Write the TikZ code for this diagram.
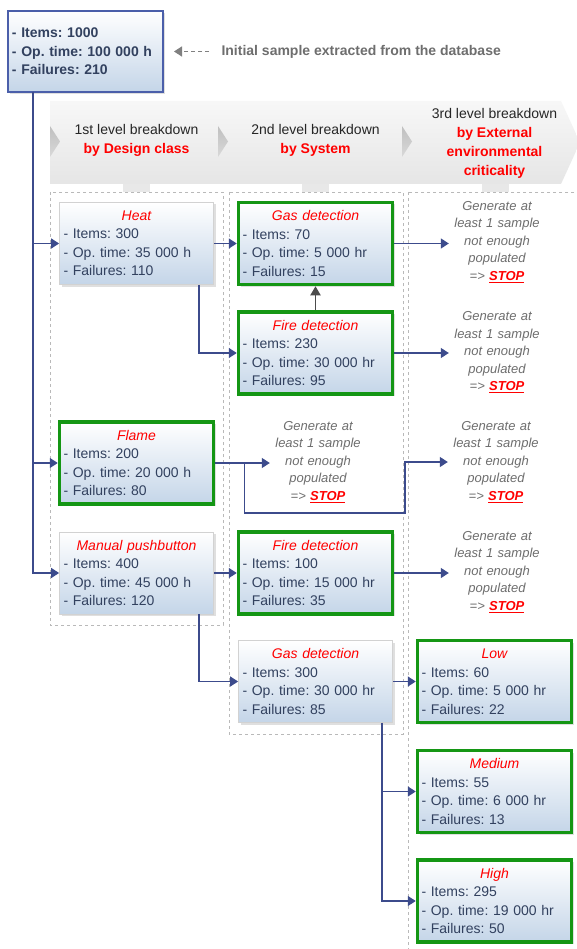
\documentclass[tikz,border=0pt]{standalone}
\usepackage{fontspec}
\setmainfont{Liberation Sans}
\usetikzlibrary{arrows.meta,shadows}
\frenchspacing

\definecolor{boxblue}{RGB}{196,213,232}
\definecolor{boxtext}{RGB}{50,65,95}
\definecolor{okgreen}{RGB}{20,150,20}
\definecolor{linkblue}{RGB}{60,75,140}
\definecolor{topblue}{RGB}{75,95,170}
\definecolor{notegray}{RGB}{110,110,110}

\newcommand{\boxstats}[4]{\makebox[146pt]{\textcolor{red}{\itshape #1}}\\- Items: #2\\- Op. time: #3\\- Failures: #4}
\newcommand{\stoptext}{Generate at\\least 1 sample\\not enough\\populated\\=> \textcolor{red}{\bfseries\underline{STOP}}}

\begin{document}
\begin{tikzpicture}[x=1pt, y=-1pt,
    stat/.style={rectangle, minimum width=154pt, minimum height=82pt, text width=146pt, inner xsep=4pt, align=left, top color=white, bottom color=boxblue, text=boxtext, font=\fontsize{14}{18.5}\selectfont, drop shadow={opacity=0.25, shadow xshift=2pt, shadow yshift=-2pt}},
    plainstat/.style={stat, draw=gray!35, line width=0.8pt},
    okstat/.style={stat, draw=okgreen, line width=3.5pt},
    stopnote/.style={text width=92pt, inner sep=2pt, align=center, text=notegray, font=\fontsize{13}{17.5}\selectfont\itshape},
    header/.style={align=center, text=black!85, font=\fontsize{14}{19}\selectfont},
    column/.style={draw=gray!55, dashed, line width=0.6pt},
    flow/.style={draw=linkblue, line width=1.4pt, -{Triangle[length=8pt,width=10pt]}},
  ]
            \useasboundingbox (0,0) rectangle (576,949);
            \fill[white] (0,0) rectangle (576,949);

            % Columns and banner
            \draw[column] (50,192) rectangle (223,625);
            \draw[column] (229,192) rectangle (403,734);
            \draw[column] (408,192) rectangle (590,960);
            \shade[top color=gray!6, bottom color=gray!20] (50,101) -- (561,101) -- (580,142.5) -- (561,184) -- (50,184) -- cycle;
            \foreach \x in {50,218,402}
                \shade[top color=gray!50, bottom color=gray!30] (\x,126) -- (\x+10,141.5) -- (\x,157) -- cycle;
            \foreach \x in {136.5,315.5,495.5}
                \fill[gray!18] (\x-13.5,184) rectangle (\x+13.5,192);

            % Nodes
            \node (top) [rectangle, draw=topblue, line width=2pt, top color=white, bottom color=boxblue, minimum width=155pt, minimum height=81pt, text width=147pt, inner xsep=4pt, align=left, text=boxtext, font=\fontsize{14}{18.5}\selectfont\bfseries, drop shadow={opacity=0.25, shadow xshift=2pt, shadow yshift=-2pt}] at (85.5,51.5) {- Items: 1000\\- Op. time: 100 000 h\\- Failures: 210};
            \node (note) [anchor=west, text=notegray, font=\fontsize{14}{17}\selectfont\bfseries] at (218,51.5) {Initial sample extracted from the database};

            \node (lvl1) [header] at (136.5,140.5) {1st level breakdown\\\textcolor{red}{\bfseries by Design class}};
            \node (lvl2) [header] at (315.5,140.5) {2nd level breakdown\\\textcolor{red}{\bfseries by System}};
            \node (lvl3) [header] at (494.5,143) {3rd level breakdown\\\textcolor{red}{\bfseries by External}\\\textcolor{red}{\bfseries environmental}\\\textcolor{red}{\bfseries criticality}};

            \node (heat) [plainstat] at (136.5,243.5) {\boxstats{Heat}{300}{35 000 h}{110}};
            \node (gas1) [okstat] at (315.5,243.5) {\boxstats{Gas detection}{70}{5 000 hr}{15}};
            \node (fire1) [okstat] at (315.5,353) {\boxstats{Fire detection}{230}{30 000 hr}{95}};
            \node (flame) [okstat] at (136.5,463) {\boxstats{Flame}{200}{20 000 h}{80}};
            \node (manual) [plainstat] at (136.5,573) {\boxstats{Manual pushbutton}{400}{45 000 h}{120}};
            \node (fire2) [okstat] at (315.5,573) {\boxstats{Fire detection}{100}{15 000 hr}{35}};
            \node (gas2) [plainstat] at (315.5,681.5) {\boxstats{Gas detection}{300}{30 000 hr}{85}};
            \node (low) [okstat] at (494.5,681.5) {\boxstats{Low}{60}{5 000 hr}{22}};
            \node (medium) [okstat] at (494.5,791.5) {\boxstats{Medium}{55}{6 000 hr}{13}};
            \node (high) [okstat] at (494.5,901) {\boxstats{High}{295}{19 000 hr}{50}};

            \node (stop1) [stopnote] at (497,242) {\stoptext};
            \node (stop2) [stopnote] at (497,352.5) {\stoptext};
            \node (stop3) [stopnote] at (318,462) {\stoptext};
            \node (stop4) [stopnote] at (496,462) {\stoptext};
            \node (stop5) [stopnote] at (497,572) {\stoptext};

            % Edges
            \draw[draw=black!50, line width=1.5pt, dash pattern=on 4pt off 3pt, -{Triangle[length=8pt,width=10pt]}, shorten <=9pt, shorten >=10pt] (note.west) -- (top.east);
            \coordinate (trunk) at (33,92);
            \draw[flow] (trunk) |- (heat.west);
            \draw[flow] (trunk) |- (flame.west);
            \draw[flow] (trunk) |- (manual.west);

            \draw[flow] (heat.east) -- (gas1.west);
            \draw[flow] ([xshift=-15pt]heat.south east) |- (fire1.west);
            \draw[draw=black!70, line width=1.8pt, -{Triangle[length=9pt,width=10pt]}] (fire1.north) -- (gas1.south);
            \draw[flow] (gas1.east) -- (gas1.east -| stop1.west);
            \draw[flow] (fire1.east) -- (fire1.east -| stop2.west);

            \draw[flow] (flame.east) -- (flame.east -| stop3.west);
            \draw[flow] ([xshift=29pt]flame.east) -- ++(0,50) -| ([xshift=-43pt]stop4.west) -- (stop4.west);

            \draw[flow] (manual.east) -- (fire2.west);
            \draw[flow] (fire2.east) -- (fire2.east -| stop5.west);
            \draw[flow] ([xshift=-15pt]manual.south east) |- (gas2.west);

            \draw[flow] (gas2.east) -- (low.west);
            \draw[flow] ([xshift=-11pt]gas2.south east) |- (medium.west);
            \draw[flow] ([xshift=-11pt]gas2.south east) |- (high.west);

        \end{tikzpicture}
\end{document}
